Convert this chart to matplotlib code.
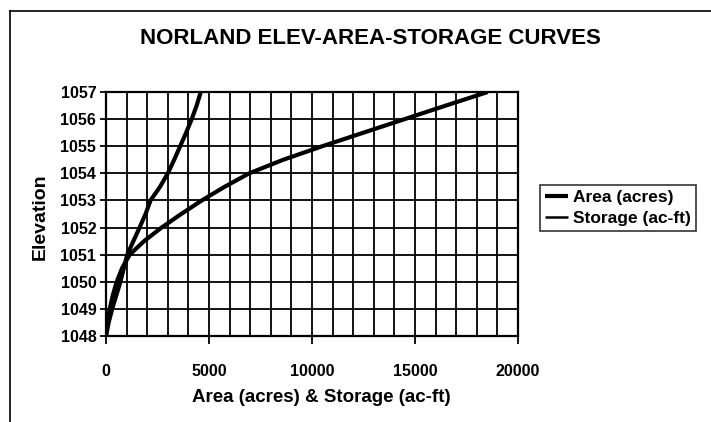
import matplotlib
matplotlib.use("Agg")
import matplotlib.pyplot as plt
from matplotlib.lines import Line2D
from matplotlib.ticker import MultipleLocator

# values
area_elev = [1048, 1048.5, 1049, 1050, 1051, 1052, 1052.5, 1053, 1053.5,
             1054, 1054.5, 1055, 1055.5, 1056, 1056.5, 1057]
area_acres = [0, 130, 300, 700, 1030, 1630, 1920, 2160, 2620,
              3000, 3310, 3600, 3890, 4160, 4400, 4600]

storage_elev = [1048, 1048.5, 1049, 1049.5, 1050, 1050.5, 1051, 1051.5, 1052,
                1052.5, 1053, 1053.5, 1054, 1054.5, 1055, 1055.5, 1056, 1056.5, 1057]
storage_acft = [0, 60, 180, 330, 520, 780, 1150, 1850, 2700,
                3650, 4650, 5750, 6950, 8600, 10500, 12500, 14500, 16500, 18530]

plt.rcParams['font.family'] = ['Liberation Sans', 'DejaVu Sans']
plt.rcParams['font.weight'] = 'bold'

fig = plt.figure(figsize=(7.11, 4.22), dpi=100)
# chart-area border (left and top edges visible in the scan)
fig.lines.append(Line2D([10 / 711, 10 / 711], [0, 1 - 11 / 422],
                        transform=fig.transFigure, color='black', lw=1.2))
fig.lines.append(Line2D([10 / 711, 1], [1 - 11 / 422, 1 - 11 / 422],
                        transform=fig.transFigure, color='black', lw=1.2))

ax = fig.add_axes([106 / 711, 86 / 422, 412 / 711, 244 / 422])
ax.plot(area_acres, area_elev, color='black', lw=3.0, label='Area (acres)',
        solid_capstyle='butt', solid_joinstyle='round')
ax.plot(storage_acft, storage_elev, color='black', lw=3.0, label='Storage (ac-ft)',
        solid_capstyle='butt', solid_joinstyle='round')

ax.set_xlim(0, 20000)
ax.set_ylim(1048, 1057)
ax.xaxis.set_major_locator(MultipleLocator(5000))
ax.xaxis.set_minor_locator(MultipleLocator(1000))
ax.yaxis.set_major_locator(MultipleLocator(1))
ax.grid(which='both', color='black', linewidth=1.3)
ax.set_axisbelow(True)
for s in ax.spines.values():
    s.set_linewidth(1.6)
ax.tick_params(axis='x', which='major', length=6, width=1.3, pad=14, labelsize=11.5)
ax.tick_params(axis='x', which='minor', length=0)
ax.tick_params(axis='y', which='major', length=4, width=1.3, pad=3, labelsize=11.5)

fig.text(370 / 711, 1 - 39 / 422, 'NORLAND ELEV-AREA-STORAGE CURVES',
         ha='center', va='center', fontsize=16, fontweight='bold')
fig.text(321 / 711, 1 - 398 / 422, 'Area (acres) & Storage (ac-ft)',
         ha='center', va='center', fontsize=13.5, fontweight='bold')
fig.text(40 / 711, 1 - 217 / 422, 'Elevation', rotation=90,
         ha='center', va='center', fontsize=14, fontweight='bold')

leg = ax.legend(loc='center left', bbox_to_anchor=(540 / 711, 1 - 208 / 422),
                bbox_transform=fig.transFigure, frameon=True, fancybox=False,
                edgecolor='black', fontsize=12.5, handlelength=1.3,
                handletextpad=0.3, borderpad=0.3, labelspacing=0.3,
                borderaxespad=0)
leg.get_frame().set_linewidth(1.2)
leg.get_lines()[1].set_linewidth(1.8)

fig.savefig('out.png', dpi=100)
